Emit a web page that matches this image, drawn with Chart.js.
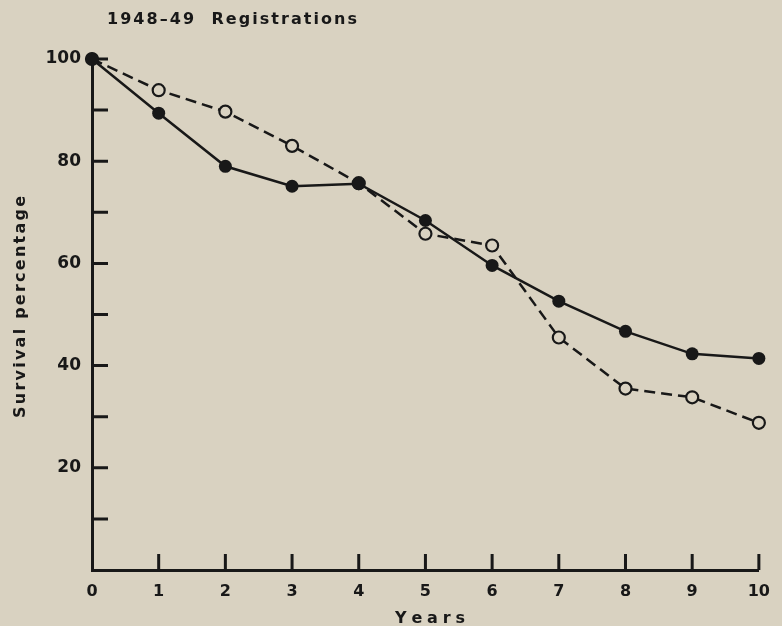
<!DOCTYPE html>
<html>
<head>
<meta charset="utf-8">
<script src="https://cdn.jsdelivr.net/npm/chart.js@4.4.0/dist/chart.umd.min.js"></script>
<style>
  html, body { margin: 0; padding: 0; background: #d9d2c1; }
  #wrap { width: 782px; height: 626px; }
</style>
</head>
<body>
<div id="wrap"><canvas id="survivalChart" width="782" height="626"></canvas></div>
<script>
// values
const years = [0, 1, 2, 3, 4, 5, 6, 7, 8, 9, 10];
const solidSeries = [100, 89.4, 79.0, 75.1, 75.6, 68.4, 59.6, 52.6, 46.7, 42.3, 41.4];
const dashedSeries = [100, 93.9, 89.7, 83.0, 75.7, 65.8, 63.5, 45.5, 35.5, 33.8, 28.8];
const yLabelTicks = [20, 40, 60, 80, 100];
const chartTitle = '1948\u201349  Registrations';
const xTitle = 'Years';
const yTitle = 'Survival percentage';

const PAPER = '#d9d2c1';
const INK = '#181818';
const FONT = '"DejaVu Sans", sans-serif';

// draw text char by char, spread to a given width, centred on x
function drawSpaced(ctx, text, x, y, width) {
    const chars = text.split('');
    const widths = chars.map(c => ctx.measureText(c).width);
    const natural = widths.reduce((a, b) => a + b, 0);
    const gap = (width - natural) / (chars.length - 1);
    let cx = x - width / 2;
    chars.forEach((c, i) => {
        ctx.fillText(c, cx, y);
        cx += widths[i] + gap;
    });
}

const paperPlugin = {
    id: 'paper',
    beforeDraw(chart) {
        const ctx = chart.ctx;
        ctx.save();
        ctx.fillStyle = PAPER;
        ctx.fillRect(0, 0, chart.width, chart.height);
        ctx.restore();
    },
    // tick marks point into the plot, as on the original
    beforeDatasetsDraw(chart) {
        const ctx = chart.ctx;
        const xs = chart.scales.x, ys = chart.scales.y;
        const left = chart.chartArea.left, bottom = chart.chartArea.bottom;
        ctx.save();
        ctx.strokeStyle = INK;
        ctx.lineWidth = 3;
        ctx.beginPath();
        for (let v = 10; v <= 100; v += 10) {
            const py = ys.getPixelForValue(v);
            ctx.moveTo(left, py);
            ctx.lineTo(left + 16, py);
        }
        for (let v = 1; v <= 10; v++) {
            const px = xs.getPixelForValue(v);
            ctx.moveTo(px, bottom);
            ctx.lineTo(px, bottom - 16);
        }
        ctx.stroke();
        ctx.restore();
    },
    afterDraw(chart) {
        const ctx = chart.ctx;
        ctx.save();
        ctx.fillStyle = INK;
        ctx.textBaseline = 'alphabetic';
        ctx.textAlign = 'left';

        ctx.font = 'bold 16px ' + FONT;
        drawSpaced(ctx, chartTitle, 232, 24, 250);

        ctx.font = 'bold 16px ' + FONT;
        drawSpaced(ctx, xTitle, 430, 623, 70);

        ctx.translate(25, 307);
        ctx.rotate(-Math.PI / 2);
        ctx.font = 'bold 16px ' + FONT;
        drawSpaced(ctx, yTitle, 0, 0, 222);
        ctx.restore();
    }
};

const ctx = document.getElementById('survivalChart').getContext('2d');
new Chart(ctx, {
    type: 'line',
    data: {
        labels: years,
        datasets: [{
            label: 'solid',
            data: years.map((x, i) => ({ x: x, y: solidSeries[i] })),
            borderColor: INK,
            borderWidth: 2.5,
            pointRadius: 6.5,
            pointBackgroundColor: INK,
            pointBorderWidth: 0,
            tension: 0,
            clip: false
        }, {
            label: 'dashed',
            data: years.map((x, i) => ({ x: x, y: dashedSeries[i] })),
            borderColor: INK,
            borderWidth: 2.5,
            borderDash: [11, 6],
            pointRadius: 6,
            pointBackgroundColor: PAPER,
            pointBorderColor: INK,
            pointBorderWidth: 2.2,
            tension: 0,
            clip: false
        }]
    },
    options: {
        responsive: false,
        devicePixelRatio: 1,
        animation: false,
        layout: { padding: { top: 59, right: 14, left: 0, bottom: 0 } },
        plugins: {
            legend: { display: false },
            tooltip: { enabled: false }
        },
        scales: {
            x: {
                type: 'linear',
                min: 0,
                max: 10,
                grid: { display: false, drawTicks: false },
                border: { display: true, color: INK, width: 3 },
                ticks: {
                    stepSize: 1,
                    padding: 12,
                    color: INK,
                    font: { family: FONT, size: 16, weight: 'bold' }
                },
                afterFit: s => { s.height = 56; }
            },
            y: {
                min: 0,
                max: 100,
                grid: { display: false, drawTicks: false },
                border: { display: true, color: INK, width: 3 },
                ticks: {
                    stepSize: 10,
                    padding: 11,
                    color: INK,
                    font: { family: FONT, size: 17, weight: 'bold' },
                    callback: v => yLabelTicks.includes(v) ? String(v) : ''
                },
                afterFit: s => { s.width = 92; }
            }
        }
    },
    plugins: [paperPlugin]
});
</script>
</body>
</html>
